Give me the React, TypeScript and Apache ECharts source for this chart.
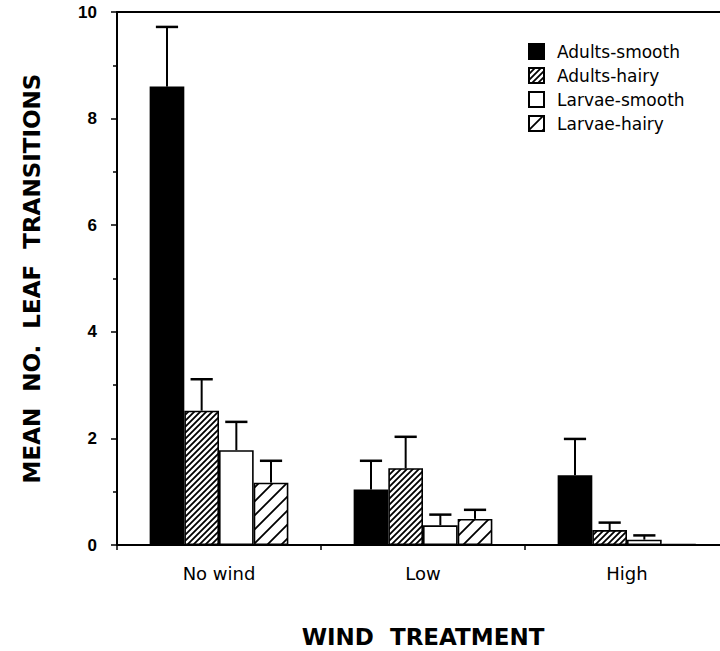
import React, { useEffect, useRef } from "react";
import * as echarts from "echarts";

const categories = ["No wind", "Low", "High"];
const seriesNames = ["Adults-smooth", "Adults-hairy", "Larvae-smooth", "Larvae-hairy"];
const adultsSmooth = [8.6, 1.04, 1.31];
const adultsSmoothErr = [1.12, 0.54, 0.68];
const adultsHairy = [2.52, 1.44, 0.28];
const adultsHairyErr = [0.59, 0.59, 0.14];
const larvaeSmooth = [1.78, 0.37, 0.1];
const larvaeSmoothErr = [0.53, 0.2, 0.08];
const larvaeHairy = [1.17, 0.49, 0.02];
const larvaeHairyErr = [0.41, 0.17, 0];
const yTicks = [0, 2, 4, 6, 8, 10];

function makeHatch(size: number, lw: number) {
  const c = document.createElement("canvas");
  c.width = size;
  c.height = size;
  const ctx = c.getContext("2d")!;
  ctx.fillStyle = "#fff";
  ctx.fillRect(0, 0, size, size);
  ctx.strokeStyle = "#000";
  ctx.lineWidth = lw;
  ctx.beginPath();
  ctx.moveTo(-1, size + 1);
  ctx.lineTo(size + 1, -1);
  ctx.moveTo(-2, 2);
  ctx.lineTo(2, -2);
  ctx.moveTo(size - 2, size + 2);
  ctx.lineTo(size + 2, size - 2);
  ctx.stroke();
  return { image: c, repeat: "repeat", imageWidth: size, imageHeight: size } as any;
}

export default function App() {
  const ref = useRef<HTMLDivElement>(null);
  useEffect(() => {
    if (!ref.current) return;
    const chart = echarts.init(ref.current, null, { renderer: "svg" });
    const values = [adultsSmooth, adultsHairy, larvaeSmooth, larvaeHairy];
    const errs = [adultsSmoothErr, adultsHairyErr, larvaeSmoothErr, larvaeHairyErr];
    const fills: any[] = ["#000", makeHatch(6, 1.8), "#fff", makeHatch(14, 1.8)];
    const gapFrac = 0.32;
    const errData: number[][] = [];
    values.forEach((vals, si) => {
      vals.forEach((v, ci) => {
        if (errs[si][ci] > 0) errData.push([ci, v, errs[si][ci], si]);
      });
    });
    const barSeries = values.map((vals, si) => ({
      name: seriesNames[si],
      type: "bar",
      data: vals,
      barGap: "0%",
      barCategoryGap: "32%",
      itemStyle: { color: fills[si], borderColor: "#000", borderWidth: 1.6 },
      emphasis: { disabled: true },
    }));
    const option: any = {
      animation: false,
      backgroundColor: "#fff",
      grid: {
        left: 117,
        width: 612,
        top: 12,
        height: 533,
        show: false,
        containLabel: false,
        outerBoundsMode: "none",
      },
      legend: {
        orient: "vertical",
        left: 523,
        top: 38,
        icon: "rect",
        itemWidth: 15,
        itemHeight: 15,
        itemGap: 7,
        data: seriesNames,
        textStyle: { fontFamily: "DejaVu Sans", fontSize: 17, color: "#000", padding: [0, 0, 0, 8] },
      },
      xAxis: [
        {
          type: "category",
          data: categories,
          name: "WIND  TREATMENT",
          nameLocation: "middle",
          nameGap: 80,
          nameTextStyle: { fontFamily: "DejaVu Sans", fontWeight: "bold", fontSize: 23, color: "#000" },
          axisLine: { lineStyle: { color: "#000", width: 2 } },
          axisTick: { show: true, length: 5, lineStyle: { color: "#000", width: 1.5 } },
          axisLabel: { margin: 19, fontFamily: "DejaVu Sans", fontSize: 18, color: "#000" },
          splitLine: { show: false },
        },
        {
          type: "category",
          data: categories,
          position: "top",
          axisLine: { show: true, lineStyle: { color: "#000", width: 2 } },
          axisTick: { show: false },
          axisLabel: { show: false },
          splitLine: { show: false },
        },
      ],
      yAxis: {
        type: "value",
        min: yTicks[0],
        max: yTicks[yTicks.length - 1],
        interval: 2,
        name: "MEAN  NO.  LEAF  TRANSITIONS",
        nameLocation: "middle",
        nameGap: 74,
        nameRotate: 90,
        nameTextStyle: { fontFamily: "DejaVu Sans", fontWeight: "bold", fontSize: 23, color: "#000" },
        axisLine: { show: true, lineStyle: { color: "#000", width: 2 } },
        axisTick: { show: true, length: 6, lineStyle: { color: "#000", width: 1.5 } },
        minorTick: { show: true, splitNumber: 2, length: 4, lineStyle: { color: "#000", width: 1.5 } },
        axisLabel: { margin: 20, fontFamily: "Liberation Sans", fontWeight: "bold", fontSize: 17, color: "#000" },
        splitLine: { show: false },
      },
      series: [
        ...barSeries,
        {
          name: "err",
          type: "custom",
          z: 10,
          data: errData,
          renderItem: (params: any, api: any) => {
            const ci = api.value(0);
            const v = api.value(1);
            const e = api.value(2);
            const si = api.value(3);
            const base = api.coord([ci, v]);
            const top = api.coord([ci, v + e]);
            const band = api.size([1, 0])[0];
            const bw = (band * (1 - gapFrac)) / 4;
            const x = base[0] - 2 * bw + (si + 0.5) * bw;
            const cap = bw * 0.32;
            return {
              type: "group",
              children: [
                { type: "line", shape: { x1: x, y1: base[1], x2: x, y2: top[1] }, style: { stroke: "#000", lineWidth: 2 } },
                { type: "line", shape: { x1: x - cap, y1: top[1], x2: x + cap, y2: top[1] }, style: { stroke: "#000", lineWidth: 2.5 } },
              ],
            };
          },
        },
      ],
    };
    chart.setOption(option);
    return () => chart.dispose();
  }, []);
  return <div ref={ref} style={{ position: "fixed", left: 0, top: 0, width: 720, height: 651 }} />;
}
